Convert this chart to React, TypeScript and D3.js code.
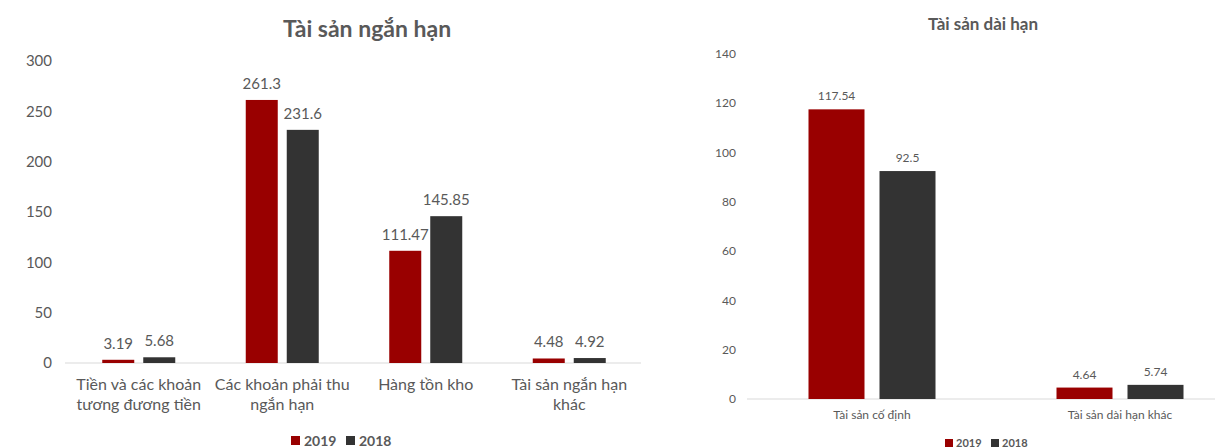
import React from "react";
import * as d3 from "d3";

// Short-term assets (Tài sản ngắn hạn)
const shortCategories = [
  ["Tiền và các khoản", "tương đương tiền"],
  ["Các khoản phải thu", "ngắn hạn"],
  ["Hàng tồn kho"],
  ["Tài sản ngắn hạn", "khác"],
];
const short2019 = [3.19, 261.3, 111.47, 4.48];
const short2018 = [5.68, 231.6, 145.85, 4.92];
const shortTicks = [0, 50, 100, 150, 200, 250, 300];

// Long-term assets (Tài sản dài hạn)
const longCategories = ["Tài sản cố định", "Tài sản dài hạn khác"];
const long2019 = [117.54, 4.64];
const long2018 = [92.5, 5.74];
const longTicks = [0, 20, 40, 60, 80, 100, 120, 140];

const seriesNames = ["2019", "2018"];
const COLORS: Record<string, string> = { "2019": "#990000", "2018": "#333333" };
const TEXT = "#595959";
const FONT = "Lato, 'Open Sans', sans-serif";

function fmt(v: number) {
  return String(v);
}

function ShortChart() {
  const y = d3.scaleLinear().domain([0, 300]).range([363, 61]);
  const keys = shortCategories.map((c) => c.join(" "));
  const x0 = d3.scaleBand<string>().domain(keys).range([67, 641]);
  const groupW = 73;
  const x1 = d3.scaleBand<string>().domain(seriesNames).range([0, groupW]).paddingInner(9 / 41);
  const off = (x0.bandwidth() - groupW) / 2;
  const values: Record<string, number[]> = { "2019": short2019, "2018": short2018 };
  return (
    <g fontFamily={FONT}>
      <text x={367} y={37} textAnchor="middle" fontSize={23} fontWeight="bold" fill={TEXT}>
        Tài sản ngắn hạn
      </text>
      {shortTicks.map((t) => (
        <text key={t} x={52} y={y(t)} dy="0.35em" textAnchor="end" fontSize={15} fill={TEXT}>
          {t}
        </text>
      ))}
      <line x1={65} x2={641} y1={y(0)} y2={y(0)} stroke="#d9d9d9" strokeWidth={1} />
      {keys.map((k, i) => (
        <g key={k} transform={`translate(${x0(k)! + off},0)`}>
          {seriesNames.map((s) => {
            const v = values[s][i];
            const bx = x1(s)!;
            return (
              <g key={s}>
                <rect x={bx} y={y(v)} width={x1.bandwidth()} height={y(0) - y(v)} fill={COLORS[s]} />
                <text
                  x={bx + x1.bandwidth() / 2}
                  y={y(v) - 11}
                  textAnchor="middle"
                  fontSize={15}
                  fill={TEXT}
                >
                  {fmt(v)}
                </text>
              </g>
            );
          })}
        </g>
      ))}
      {shortCategories.map((lines, i) => (
        <text
          key={i}
          x={x0(keys[i])! + x0.bandwidth() / 2}
          y={390}
          textAnchor="middle"
          fontSize={16}
          fill={TEXT}
        >
          {lines.map((l, j) => (
            <tspan key={j} x={x0(keys[i])! + x0.bandwidth() / 2} dy={j === 0 ? 0 : 20}>
              {l}
            </tspan>
          ))}
        </text>
      ))}
      <g fontSize={14} fontWeight="bold" fill={TEXT}>
        <rect x={291} y={436} width={9} height={9} fill={COLORS["2019"]} />
        <text x={304} y={446}>2019</text>
        <rect x={346} y={436} width={9} height={9} fill={COLORS["2018"]} />
        <text x={359} y={446}>2018</text>
      </g>
    </g>
  );
}

function LongChart() {
  const y = d3.scaleLinear().domain([0, 140]).range([399, 54]);
  const x0 = d3.scaleBand<string>().domain(longCategories).range([748, 1244]);
  const groupW = 127;
  const x1 = d3.scaleBand<string>().domain(seriesNames).range([0, groupW]).paddingInner(15 / 71);
  const off = (x0.bandwidth() - groupW) / 2;
  const values: Record<string, number[]> = { "2019": long2019, "2018": long2018 };
  return (
    <g fontFamily={FONT}>
      <text x={983} y={30} textAnchor="middle" fontSize={17} fontWeight="bold" fill={TEXT}>
        Tài sản dài hạn
      </text>
      {longTicks.map((t) => (
        <text key={t} x={736} y={y(t)} dy="0.35em" textAnchor="end" fontSize={12} fill={TEXT}>
          {t}
        </text>
      ))}
      <line x1={747} x2={1215} y1={y(0)} y2={y(0)} stroke="#d9d9d9" strokeWidth={1} />
      {longCategories.map((k, i) => (
        <g key={k} transform={`translate(${x0(k)! + off},0)`}>
          {seriesNames.map((s) => {
            const v = values[s][i];
            const bx = x1(s)!;
            return (
              <g key={s}>
                <rect x={bx} y={y(v)} width={x1.bandwidth()} height={y(0) - y(v)} fill={COLORS[s]} />
                <text
                  x={bx + x1.bandwidth() / 2}
                  y={y(v) - 9}
                  textAnchor="middle"
                  fontSize={12}
                  fill={TEXT}
                >
                  {fmt(v)}
                </text>
              </g>
            );
          })}
        </g>
      ))}
      {longCategories.map((k) => (
        <text
          key={k}
          x={x0(k)! + x0.bandwidth() / 2}
          y={419}
          textAnchor="middle"
          fontSize={12}
          fill={TEXT}
        >
          {k}
        </text>
      ))}
      <g fontSize={11} fontWeight="bold" fill={TEXT}>
        <rect x={945} y={439} width={8} height={8} fill={COLORS["2019"]} />
        <text x={956} y={447}>2019</text>
        <rect x={991} y={439} width={8} height={8} fill={COLORS["2018"]} />
        <text x={1002} y={447}>2018</text>
      </g>
    </g>
  );
}

export default function App() {
  return (
    <svg
      width={1215}
      height={448}
      style={{ position: "absolute", left: 0, top: 0, background: "#fff" }}
    >
      <rect width={1215} height={448} fill="#fff" />
      <ShortChart />
      <LongChart />
    </svg>
  );
}
